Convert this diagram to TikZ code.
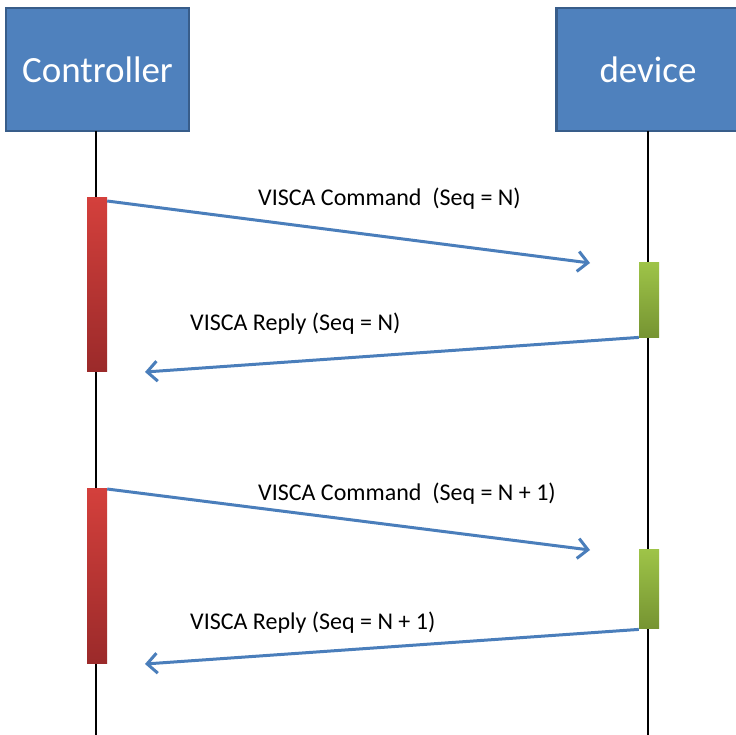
\documentclass[tikz,border=0pt]{standalone}
\usepackage{fontspec}
\setmainfont{Carlito}
\usetikzlibrary{arrows.meta}
\definecolor{boxfill}{RGB}{79,129,189}
\definecolor{boxline}{RGB}{56,93,138}
\definecolor{arrowc}{RGB}{74,126,187}
\definecolor{redtop}{RGB}{212,64,60}
\definecolor{redbot}{RGB}{155,42,42}
\definecolor{greentop}{RGB}{158,196,72}
\definecolor{greenbot}{RGB}{118,148,50}
\tikzset{
  actor/.style={draw=boxline, line width=2.5pt, fill=boxfill, minimum width=183pt, minimum height=123pt, inner sep=0pt, text=white, font=\fontsize{37}{40}\selectfont},
  lifeline/.style={draw=black, line width=2.6pt},
  redbar/.style={draw=none, top color=redtop, bottom color=redbot, minimum width=20pt, inner sep=0pt, anchor=north},
  greenbar/.style={draw=none, top color=greentop, bottom color=greenbot, minimum width=20pt, inner sep=0pt, anchor=north},
  msg/.style={draw=arrowc, line width=3pt, -{Straight Barb[length=10pt,width=20pt,line width=3pt]}},
  lbl/.style={font=\fontsize{24}{28}\selectfont, text=black, inner sep=0pt, anchor=west}
}
\begin{document}
\begin{tikzpicture}[x=1pt,y=-1pt]
\useasboundingbox[fill=white] (0,0) rectangle (736,734);
\node[actor] (ctrl) at (97.5,69.5) {Controller};
\node[actor] (dev) at (648,69.5) {device};
\coordinate (ctrlend) at (96,740);
\coordinate (devend) at (648,740);
\draw[lifeline] (96,131) -- (ctrlend);
\draw[lifeline] (648,131) -- (devend);
% activation bars
\node[redbar, minimum height=174pt] (r1) at (97,197) {};
\node[redbar, minimum height=175pt] (r2) at (97,488) {};
\node[greenbar, minimum height=75pt] (g1) at (649,262) {};
\node[greenbar, minimum height=79pt] (g2) at (649,549) {};
% message endpoints
\coordinate (m1e) at (590,263);
\coordinate (m2e) at (145,372);
\coordinate (m3e) at (590,550);
\coordinate (m4e) at (145,664);
\draw[msg] ([yshift=-4pt]r1.north east) -- (m1e);
\draw[msg] (g1.south west) -- (m2e);
\draw[msg] ([yshift=-1pt]r2.north east) -- (m3e);
\draw[msg] ([yshift=-1pt]g2.south west) -- (m4e);
% labels
\node[lbl] (l1) at (258,199) {VISCA Command\ \ (Seq = N)};
\node[lbl] (l2) at (190,324) {VISCA Reply (Seq = N)};
\node[lbl] (l3) at (258,494) {VISCA Command\ \ (Seq = N + 1)};
\node[lbl] (l4) at (190,623) {VISCA Reply (Seq = N + 1)};
\end{tikzpicture}
\end{document}
